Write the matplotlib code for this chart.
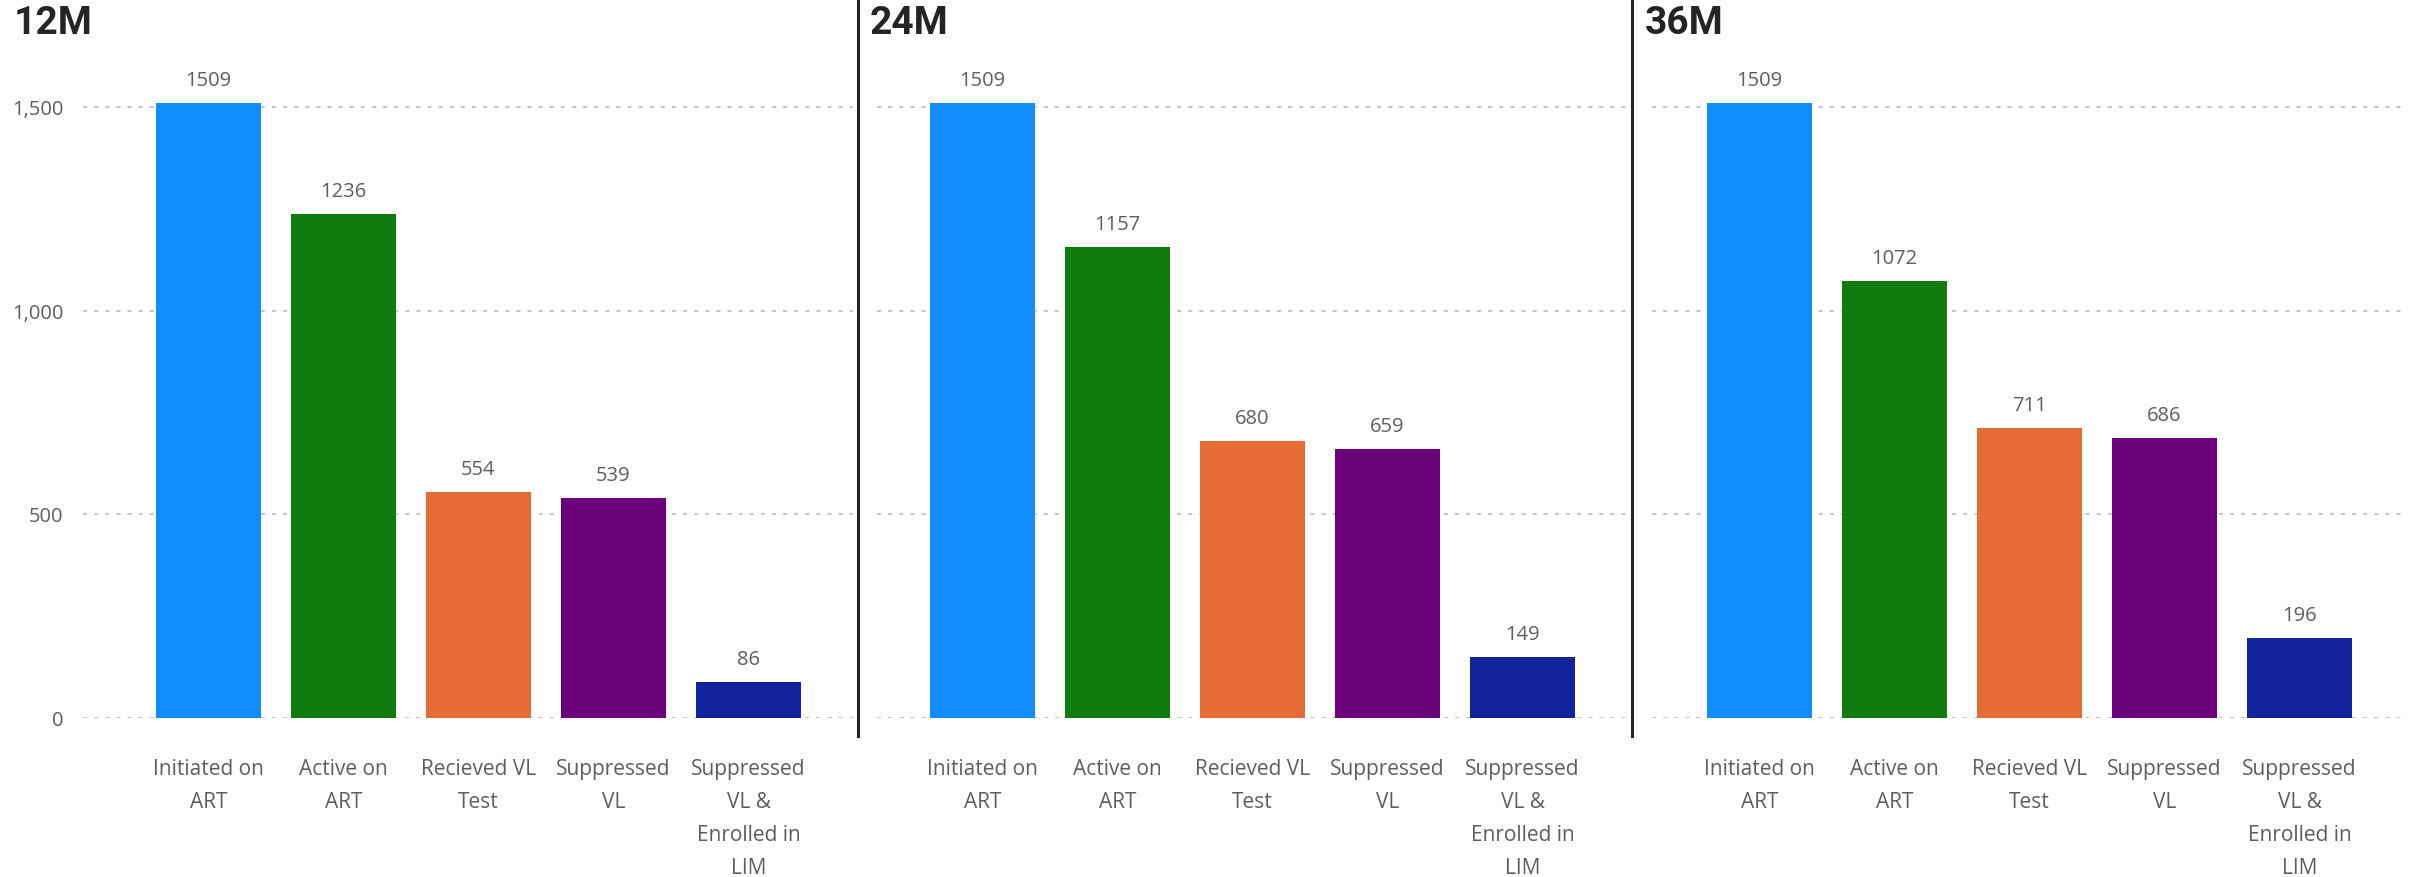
import matplotlib
matplotlib.use("Agg")
from matplotlib import pyplot as plt
from matplotlib.lines import Line2D

plt.rcParams['font.family'] = ['Open Sans', 'DejaVu Sans']
plt.rcParams['lines.scale_dashes'] = False

# cascade counts per follow-up period
periods = ["12M", "24M", "36M"]
initiated = [1509, 1509, 1509]
active = [1236, 1157, 1072]
received_vl = [554, 680, 711]
suppressed_vl = [539, 659, 686]
enrolled_lim = [86, 149, 196]

stages = ["Initiated on\nART", "Active on\nART", "Recieved VL\nTest",
          "Suppressed\nVL", "Suppressed\nVL &\nEnrolled in\nLIM"]
colors = ["#118DFF", "#107C10", "#E66C37", "#6B007B", "#12239E"]
yticks = [0, 500, 1000, 1500]

W, H = 2415, 878
fig = plt.figure(figsize=(W / 100, H / 100), dpi=100)

# pixel layout of the three panels: plot left/right edge and first bar centre
panels = [(83, 853, 208.5), (877, 1628, 982.5), (1652, 2403, 1759.5)]
title_x = [14, 870, 1645]
step = 135          # px between bar centres
zero_y, top_y = 718.5, 40
px_per_unit = 610.5 / 1500

gray = "#605E5C"
for p, (left, right, c0) in enumerate(panels):
    ax = fig.add_axes([left / W, (H - zero_y) / H, (right - left) / W, (zero_y - top_y) / H])
    vals = [initiated[p], active[p], received_vl[p], suppressed_vl[p], enrolled_lim[p]]
    x = list(range(len(vals)))
    ax.bar(x, vals, width=105 / step, color=colors, zorder=2)
    for xi, v in zip(x, vals):
        ax.annotate(str(v), (xi, v), xytext=(0, 13), textcoords="offset points",
                    ha="center", va="baseline", fontsize=14.5, color=gray)
    ax.set_xlim((left - c0) / step, (right - c0) / step)
    ax.set_ylim(0, (zero_y - top_y) / px_per_unit)
    ax.set_yticks(yticks)
    ax.yaxis.grid(True, color="#C8C6C4", linewidth=1.4, dashes=(3, 5), zorder=0)
    ax.set_axisbelow(True)
    if p == 0:
        ax.set_yticklabels([f"{t:,}" for t in yticks], fontsize=14.5, color=gray)
    else:
        ax.set_yticklabels([])
    ax.set_xticks(x)
    ax.set_xticklabels(stages, fontsize=15, color=gray, linespacing=1.76)
    ax.tick_params(axis="both", length=0)
    ax.tick_params(axis="y", pad=14)
    ax.tick_params(axis="x", pad=29)
    for s in ax.spines.values():
        s.set_visible(False)
    fig.text(title_x[p] / W, 1 - 23 / H, periods[p], fontsize=28, fontweight="bold",
             family=["Roboto", "DejaVu Sans"], color="#252423", ha="left", va="center")

# dividers between the panels
for xs in (857.5, 1632):
    fig.add_artist(Line2D([xs / W, xs / W], [1, (H - 737) / H], color="#252423",
                          linewidth=2.2, transform=fig.transFigure))

fig.savefig("out.png", dpi=100)
